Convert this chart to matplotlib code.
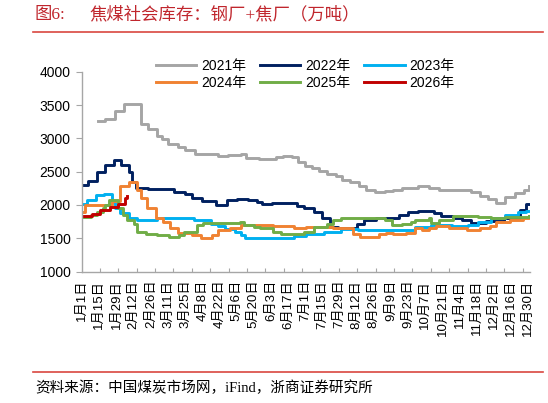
import matplotlib
matplotlib.use('Agg')
import matplotlib.pyplot as plt
from matplotlib.lines import Line2D

plt.rcParams['font.family'] = ['Liberation Sans', 'Noto Sans CJK SC']

#.........data: (day of year, value) where each weekly step starts...........
days_2021 = [13, 19, 27, 34, 48, 54, 61, 65, 70, 78, 84, 92, 99, 111, 119, 130, 134, 144, 158, 164,
             171, 176, 182, 188, 193, 200, 207, 212, 219, 226, 232, 239, 247, 254, 261, 274, 283, 291,
             317, 325, 331, 338, 345, 353, 361, 365]
vals_2021 = [3270, 3300, 3420, 3520, 3220, 3140, 3040, 2990, 2910, 2870, 2830, 2770, 2760, 2730, 2750,
             2770, 2710, 2690, 2720, 2730, 2720, 2650, 2580, 2550, 2510, 2470, 2430, 2380, 2340, 2290,
             2230, 2200, 2210, 2230, 2250, 2290, 2260, 2230, 2190, 2140, 2090, 2030, 2120, 2180, 2230, 2290]

days_2022 = [0, 5, 12, 19, 26, 32, 38, 41, 44, 54, 75, 84, 90, 98, 109, 118, 126, 135, 143, 147, 155,
             175, 181, 189, 196, 202, 209, 224, 230, 240, 259, 266, 274, 287, 293, 303, 310, 317, 330,
             344, 357, 362, 365]
vals_2022 = [2300, 2360, 2490, 2600, 2680, 2600, 2500, 2350, 2250, 2240, 2200, 2170, 2110, 2060, 2000,
             2080, 2090, 2070, 2050, 2010, 2030, 1990, 1950, 1890, 1800, 1670, 1650, 1710, 1780, 1800,
             1850, 1900, 1910, 1880, 1830, 1810, 1770, 1730, 1760, 1800, 1920, 2020, 2020]

days_2023 = [0, 4, 11, 18, 24, 27, 31, 38, 45, 61, 76, 91, 105, 111, 117, 125, 130, 133, 156, 173, 183,
             197, 211, 225, 253, 272, 285, 302, 315, 323, 334, 345, 356, 362, 365]
vals_2023 = [2010, 2080, 2150, 2170, 2050, 1960, 1880, 1810, 1780, 1810, 1800, 1770, 1720, 1680, 1640,
             1600, 1550, 1500, 1500, 1530, 1570, 1600, 1640, 1620, 1630, 1670, 1700, 1690, 1700, 1750,
             1800, 1850, 1900, 1910, 1910]

days_2024 = [0, 2, 24, 31, 38, 45, 48, 53, 60, 66, 72, 78, 90, 97, 106, 111, 121, 130, 156, 173, 183,
             205, 221, 227, 242, 248, 254, 264, 272, 277, 283, 289, 299, 314, 325, 333, 338, 349, 360, 365]
vals_2024 = [1900, 2000, 2060, 2290, 2340, 2230, 2100, 1950, 1810, 1740, 1650, 1580, 1550, 1500, 1550,
             1630, 1650, 1700, 1680, 1660, 1670, 1650, 1570, 1520, 1570, 1580, 1560, 1580, 1660, 1630,
             1650, 1680, 1660, 1630, 1650, 1680, 1750, 1780, 1810, 1830]

days_2025 = [0, 7, 12, 17, 19, 22, 29, 33, 37, 42, 45, 52, 61, 71, 79, 83, 94, 99, 129, 132, 140, 145,
             156, 162, 181, 189, 200, 205, 211, 247, 253, 261, 268, 272, 283, 285, 291, 303, 323, 334,
             345, 365]
vals_2025 = [1820, 1850, 1890, 1950, 2000, 2070, 1960, 1850, 1770, 1720, 1600, 1570, 1550, 1520, 1550,
             1590, 1700, 1730, 1750, 1700, 1670, 1650, 1600, 1570, 1600, 1670, 1710, 1770, 1800, 1780,
             1700, 1710, 1750, 1780, 1810, 1730, 1770, 1830, 1820, 1800, 1820, 1830]

days_2026 = [0, 8, 15, 23, 29, 35, 37]
vals_2026 = [1840, 1870, 1920, 1970, 2020, 2100, 2130]

series = [('2021年', days_2021, vals_2021, '#A5A5A5'),
          ('2022年', days_2022, vals_2022, '#002060'),
          ('2023年', days_2023, vals_2023, '#00B0F0'),
          ('2024年', days_2024, vals_2024, '#F08232'),
          ('2025年', days_2025, vals_2025, '#70AD47'),
          ('2026年', days_2026, vals_2026, '#C00000')]

# x labels every 14 days (leap year calendar)
label_days = list(range(0, 365, 14))
label_text = ['1月1日', '1月15日', '1月29日', '2月12日', '2月26日', '3月11日', '3月25日', '4月8日',
              '4月22日', '5月6日', '5月20日', '6月3日', '6月17日', '7月1日', '7月15日', '7月29日',
              '8月12日', '8月26日', '9月9日', '9月23日', '10月7日', '10月21日', '11月4日', '11月18日',
              '12月2日', '12月16日', '12月30日']

#.........figure..............................................
W, H = 548, 403
fig = plt.figure(figsize=(W/100, H/100), dpi=100)
ax = fig.add_axes([81.5/W, 1-271.5/H, (530-81.5)/W, (271.5-72)/H])

lines = []
for name, d, v, c in series:
    ln, = ax.plot(d, v, drawstyle='steps-post', color=c, lw=2.1, label=name)
    lines.append(ln)

ax.set_xlim(-0.5, 365.5)
ax.set_ylim(1000, 4000)
ax.set_yticks(range(1000, 4001, 500))
ax.tick_params(axis='y', direction='out', length=4, color='#A6A6A6', labelsize=10, pad=4)

# tick marks every 15 days, labels every 14 days
ax.set_xticks([15*k - 0.5 for k in range(1, 25)])
ax.set_xticklabels([])
ax.tick_params(axis='x', which='major', direction='in', length=3, color='#A6A6A6')
ax.set_xticks(label_days, minor=True)
ax.set_xticklabels(label_text, minor=True, rotation=90, fontsize=9.5)
ax.tick_params(axis='x', which='minor', length=0, pad=6)

for s in ['top', 'right']:
    ax.spines[s].set_visible(False)
for s in ['left', 'bottom']:
    ax.spines[s].set_color('#A6A6A6')
    ax.spines[s].set_linewidth(1.0)

# legend filled row by row: 2021 2022 2023 / 2024 2025 2026
order = [0, 3, 1, 4, 2, 5]
ax.legend([lines[i] for i in order], [series[i][0] for i in order],
          loc='upper left', bbox_to_anchor=(156/W, 1-59/H), bbox_transform=fig.transFigure,
          ncol=3, frameon=False, fontsize=10, handlelength=2.9, handletextpad=0.35,
          columnspacing=1.0, labelspacing=0.2, borderpad=0, borderaxespad=0)

#.........title and source.....................................
red = '#C0262D'
fig.text(35/W, 1-15/H, '图6:', color=red, fontsize=12.5, va='center',
         family=['Liberation Serif', 'Noto Sans CJK SC'])
fig.text(89.5/W, 1-15/H, '焦煤社会库存：钢厂+焦厂（万吨）', color=red, fontsize=12.5, va='center',
         family=['Liberation Serif', 'Noto Sans CJK SC'])
fig.add_artist(Line2D([33/W, 543/W], [1-32/H, 1-32/H], color='#D9473F', lw=1.2))
fig.add_artist(Line2D([33/W, 543/W], [1-372/H, 1-372/H], color='#D9473F', lw=1.2))
fig.text(35/W, 1-388/H, '资料来源：中国煤炭市场网，iFind，浙商证券研究所', color='black', fontsize=10.5,
         va='center', family=['Liberation Serif', 'Noto Sans CJK SC'])

fig.savefig('out.png', dpi=100)
